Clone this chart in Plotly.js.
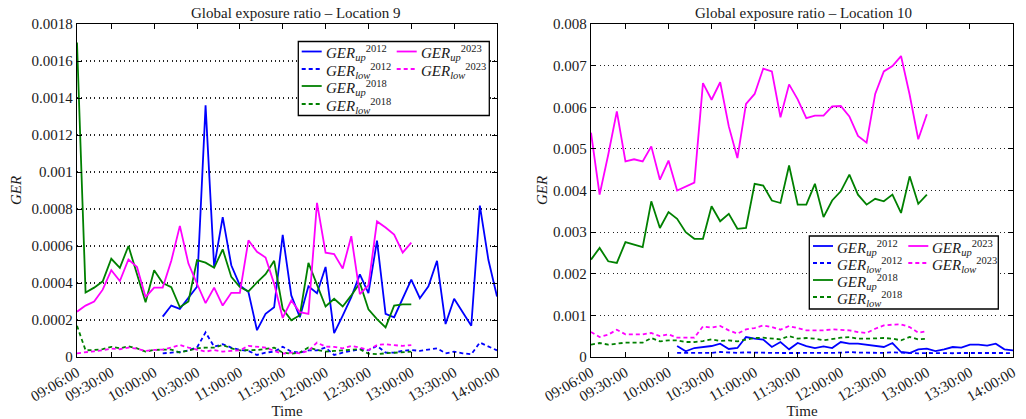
<!DOCTYPE html>
<html><head><meta charset="utf-8">
<script src="https://cdn.plot.ly/plotly-3.0.1.min.js"></script>
<style>html,body{margin:0;padding:0;background:#fff}#chart{width:1026px;height:419px}</style>
</head><body><div id="chart"></div>
<script>
const times = ["09:06","09:12","09:18","09:24","09:30","09:36","09:42","09:48","09:54","10:00",
"10:06","10:12","10:18","10:24","10:30","10:36","10:42","10:48","10:54","11:00",
"11:06","11:12","11:18","11:24","11:30","11:36","11:42","11:48","11:54","12:00",
"12:06","12:12","12:18","12:24","12:30","12:36","12:42","12:48","12:54","13:00",
"13:06","13:12","13:18","13:24","13:30","13:36","13:42","13:48","13:54","14:00"];
const tickTimes = ["09:06","09:30","10:00","10:30","11:00","11:30","12:00","12:30","13:00","13:30","14:00"];
const tickTimeText = ["09:06:00","09:30:00","10:00:00","10:30:00","11:00:00","11:30:00","12:00:00","12:30:00","13:00:00","13:30:00","14:00:00"];
const yTicksL = [0,0.0002,0.0004,0.0006,0.0008,0.001,0.0012,0.0014,0.0016,0.0018];
const yTextL = ["0","0.0002","0.0004","0.0006","0.0008","0.001","0.0012","0.0014","0.0016","0.0018"];
const yTicksR = [0,0.001,0.002,0.003,0.004,0.005,0.006,0.007,0.008];
const yTextR = ["0","0.001","0.002","0.003","0.004","0.005","0.006","0.007","0.008"];
const N = null;

// Location 9
const L9_up2012 = [N,N,N,N,N,N,N,N,N,N,
0.000218,0.000278,0.00026,0.00032,0.00038,0.00136,0.000487,0.000756,0.000496,0.000387,
0.000351,0.000145,0.000233,0.000269,0.00066,0.000333,0.000215,0.000382,0.000345,0.000487,
0.000129,0.000224,0.000324,0.000447,0.000345,0.000629,0.000233,0.000215,0.000315,0.000418,
0.000318,0.000382,0.00052,0.000178,0.000315,0.000242,0.000169,0.000818,0.000524,0.000327];
const L9_low2012 = [N,N,N,N,N,N,N,N,N,N,
0.00002,0.000024,0.000027,0.000036,0.000051,0.000133,0.000056,0.000069,0.000051,0.000038,
0.000033,0.000011,0.000024,0.000029,0.000055,0.000029,0.000024,0.000036,0.000036,0.000051,
0.000011,0.000024,0.000033,0.000042,0.000036,0.00006,0.000024,0.000024,0.000033,0.000038,
0.000033,0.000038,0.000047,0.00002,0.000029,0.00002,0.000015,0.000078,0.000055,0.000036];
const L9_up2018 = [0.0017,0.000349,0.000375,0.000409,0.000531,0.000482,0.0006,0.00045,0.000296,0.000469,
0.0004,0.000378,0.000269,0.0003,0.000524,0.00051,0.000482,0.000582,0.000433,0.000378,
0.000355,0.000403,0.000448,0.00052,0.00026,0.000198,0.000226,0.000509,0.000395,0.000273,
0.000315,0.000273,0.000333,0.0004,0.000258,0.000205,0.00016,0.000278,0.000284,0.000284];
const L9_low2018 = [0.000169,0.000036,0.000038,0.000042,0.000055,0.000047,0.000058,0.000047,0.000029,0.000038,
0.00004,0.00004,0.000024,0.000036,0.000047,0.000051,0.000051,0.000065,0.000047,0.000036,
0.000036,0.000038,0.000044,0.000051,0.000024,0.000018,0.000024,0.000051,0.000038,0.000029,
0.000033,0.000036,0.000038,0.000042,0.000018,0.000015,0.00002,0.000024,0.000029,0.000029];
const L9_up2023 = [0.000245,0.000278,0.0003,0.000364,0.000469,0.000411,0.000527,0.000487,0.000324,0.000375,
0.000375,0.00052,0.000709,0.000505,0.000396,0.000291,0.000375,0.000278,0.000347,0.000347,
0.000631,0.000569,0.000538,0.000396,0.000211,0.000305,0.000242,0.000233,0.000833,0.000564,
0.000556,0.000478,0.000653,0.00034,0.000387,0.000733,0.0007,0.000662,0.000564,0.000618];
const L9_low2023 = [0.00002,0.000027,0.000031,0.000036,0.000045,0.000042,0.000051,0.000045,0.000033,0.000038,
0.00004,0.000051,0.000065,0.000051,0.000038,0.000029,0.000038,0.000029,0.000033,0.000036,
0.00006,0.000056,0.000051,0.000033,0.000018,0.000024,0.00002,0.000033,0.000078,0.000056,
0.000055,0.000047,0.00006,0.000051,0.000038,0.000065,0.000069,0.000064,0.00006,0.000064];

// Location 10
const L10_up2012 = [N,N,N,N,N,N,N,N,N,N,
0.000264,0.000136,0.000216,0.00024,0.000264,0.00032,0.000192,0.000216,0.00048,0.00044,
0.000416,0.00024,0.00036,0.000184,0.000336,0.000264,0.000216,0.000256,0.000216,0.00036,
0.00032,0.00032,0.000296,0.000264,0.00024,0.000336,0.00012,0.000096,0.000184,0.0002,
0.000144,0.000184,0.00024,0.000224,0.000296,0.000296,0.000272,0.00032,0.000184,0.00016];
const L10_low2012 = [N,N,N,N,N,N,N,N,N,N,
0.0001,0.0001,0.0001,0.000096,0.0001,0.00012,0.000104,0.0001,0.00011,0.000112,
0.000104,0.0001,0.000096,0.00009,0.000096,0.0001,0.000096,0.000096,0.0001,0.000104,
0.00012,0.000104,0.0001,0.000096,0.0001,0.000112,0.0001,0.000096,0.000088,0.000096,
0.00009,0.000096,0.00009,0.000096,0.000096,0.000096,0.000104,0.00011,0.000096,0.000088];
const L10_up2018 = [0.00234,0.00262,0.0023,0.00226,0.00276,0.0027,0.00264,0.00374,0.0031,0.00348,
0.00332,0.003,0.00284,0.00284,0.00362,0.00326,0.00344,0.00308,0.0031,0.00416,
0.00412,0.00376,0.0037,0.0046,0.00366,0.00366,0.00416,0.00336,0.00376,0.00398,
0.00438,0.0039,0.00366,0.0038,0.00374,0.0039,0.00346,0.00434,0.00368,0.0039];
const L10_low2018 = [0.000296,0.000336,0.000296,0.00032,0.000344,0.000344,0.000344,0.000456,0.000376,0.0004,
0.0004,0.00036,0.00036,0.000384,0.000424,0.000384,0.0004,0.000376,0.000416,0.000456,
0.000464,0.00044,0.000424,0.000504,0.00044,0.000456,0.00044,0.0004,0.00044,0.000464,
0.00048,0.00044,0.00044,0.000456,0.000456,0.00044,0.0004,0.00048,0.000424,0.00044];
const L10_up2023 = [0.00539,0.0039,0.00486,0.0059,0.0047,0.00475,0.0047,0.00506,0.00426,0.00472,
0.004,0.0041,0.00419,0.00658,0.00618,0.0066,0.00554,0.00478,0.00608,0.00632,
0.00693,0.00686,0.00576,0.00655,0.00619,0.00574,0.0058,0.0058,0.00602,0.00603,
0.00578,0.00531,0.00515,0.00632,0.00686,0.00699,0.00723,0.0063,0.00523,0.00583];
const L10_low2023 = [0.0006,0.00048,0.000536,0.000656,0.000544,0.000544,0.000544,0.000576,0.000504,0.000544,
0.000464,0.000464,0.000464,0.000736,0.000704,0.000744,0.00064,0.00056,0.000664,0.000696,
0.00076,0.00072,0.000656,0.000744,0.000696,0.00064,0.00064,0.00064,0.000664,0.000656,
0.00064,0.0006,0.000576,0.00068,0.00076,0.000776,0.000784,0.00072,0.000584,0.000624];

const seriesNames = [
  "<i>GER<sub>up</sub></i><sup>2012</sup>",
  "<i>GER<sub>low</sub></i><sup>2012</sup>",
  "<i>GER<sub>up</sub></i><sup>2018</sup>",
  "<i>GER<sub>low</sub></i><sup>2018</sup>",
  "<i>GER<sub>up</sub></i><sup>2023</sup>",
  "<i>GER<sub>low</sub></i><sup>2023</sup>"
];
const colors = ["#0000ff","#0000ff","#008000","#008000","#ff00ff","#ff00ff"];
const DAY = "2000-01-01 ";
const X = times.map(t => DAY + t + ":00");

const FONT = "Liberation Serif";
const dashStyle = "4px,3px";
const TXT = "#1a1a1a";

function mk(y, i, xa, ya) {
  return {
    x: X.slice(0, y.length), y: y, type: "scatter", mode: "lines",
    name: seriesNames[i], xaxis: xa, yaxis: ya, showlegend: false,
    line: {color: colors[i], width: 1.8, dash: (i % 2 === 1) ? dashStyle : "solid"},
    connectgaps: false, hoverinfo: "skip"
  };
}
const left = [L9_up2012, L9_low2012, L9_up2018, L9_low2018, L9_up2023, L9_low2023];
const right = [L10_up2012, L10_low2012, L10_up2018, L10_low2018, L10_up2023, L10_low2023];
const data = [];
left.forEach((s, i) => data.push(mk(s, i, "x", "y")));
right.forEach((s, i) => data.push(mk(s, i, "x2", "y2")));

function xax(dom, anchor) {
  return {
    domain: dom, anchor: anchor, type: "date",
    range: [DAY + "09:06:00", DAY + "14:00:00"],
    tickvals: tickTimes.map(t => DAY + t + ":00"), ticktext: tickTimeText,
    tickangle: -30, tickfont: {family: FONT, size: 15, color: TXT},
    ticks: "inside", ticklen: 5, tickwidth: 1, tickcolor: "#000",
    showline: true, linecolor: "#000", linewidth: 1.3, mirror: "allticks",
    showgrid: false, zeroline: false,
    title: {text: "Time", font: {family: FONT, size: 15, color: TXT}, standoff: 2}
  };
}
function yax(vals, txt, rng, anchor, standoff) {
  return {
    domain: [0, 1], anchor: anchor, range: rng,
    tickvals: vals, ticktext: txt, tickfont: {family: FONT, size: 15, color: TXT},
    ticks: "inside", ticklen: 5, tickwidth: 1, tickcolor: "#000",
    showline: true, linecolor: "#000", linewidth: 1.3, mirror: "allticks",
    showgrid: true, gridcolor: "#222", griddash: "1px,3.3px", gridwidth: 1.2,
    zeroline: false, automargin: true,
    title: {text: "<i>GER</i>", font: {family: FONT, size: 15, color: TXT}, standoff: standoff}
  };
}
const W = 936, H = 333, ML = 77, MT = 24;
const px = v => (v - ML) / W, py = v => 1 - (v - MT) / H;

// manual legend: box, column x's, row y's per panel (pixels)
const legendPanels = [
  {box: [298.3, 489.3, 41.5, 115.5], col: [301.7, 396.7], rows: [51.5, 69, 86, 104]},
  {box: [809.3, 998.3, 236, 309], col: [813, 908.3], rows: [246, 263, 280, 297]}
];
const legendSlots = [[0,0],[0,1],[0,2],[0,3],[1,0],[1,1]]; // [column,row] for each series
const shapes = [], annotations = [];
legendPanels.forEach(p => {
  shapes.push({type: "rect", xref: "paper", yref: "paper", x0: px(p.box[0]), x1: px(p.box[1]),
    y0: py(p.box[3]), y1: py(p.box[2]), line: {color: "#000", width: 1.3}, fillcolor: "#fff", layer: "above"});
  seriesNames.forEach((nm, i) => {
    const c = legendSlots[i][0], r = legendSlots[i][1];
    const x0 = p.col[c], yy = p.rows[r];
    shapes.push({type: "line", xref: "paper", yref: "paper", x0: px(x0), x1: px(x0 + 20), y0: py(yy), y1: py(yy),
      line: {color: colors[i], width: 1.8, dash: (i % 2 === 1) ? dashStyle : "solid"}, layer: "above"});
    annotations.push({text: nm, xref: "paper", yref: "paper", x: px(x0 + 23), y: py(yy + 1.5), xanchor: "left",
      yanchor: "middle", showarrow: false, font: {family: FONT, size: 15, color: TXT}, borderpad: 0});
  });
});
annotations.push(
  {text: "Global exposure ratio – Location 9", xref: "paper", yref: "paper", x: px(296), y: py(12.5),
   xanchor: "center", yanchor: "middle", showarrow: false, font: {family: FONT, size: 15, color: TXT}},
  {text: "Global exposure ratio – Location 10", xref: "paper", yref: "paper", x: px(803.5), y: py(12.5),
   xanchor: "center", yanchor: "middle", showarrow: false, font: {family: FONT, size: 15, color: TXT}}
);

const layout = {
  width: 1026, height: 419,
  margin: {l: ML, r: 13, t: MT, b: 62},
  paper_bgcolor: "#fff", plot_bgcolor: "#fff",
  font: {family: FONT, size: 15, color: TXT},
  showlegend: false,
  xaxis: xax([0, 420 / W], "y"),
  yaxis: yax(yTicksL, yTextL, [0, 0.0018], "x", 6),
  xaxis2: xax([(591 - ML) / W, 1], "y2"),
  yaxis2: yax(yTicksR, yTextR, [0, 0.008], "x2", 1),
  shapes: shapes,
  annotations: annotations
};
Plotly.newPlot("chart", data, layout, {displayModeBar: false, staticPlot: true});
</script></body></html>
